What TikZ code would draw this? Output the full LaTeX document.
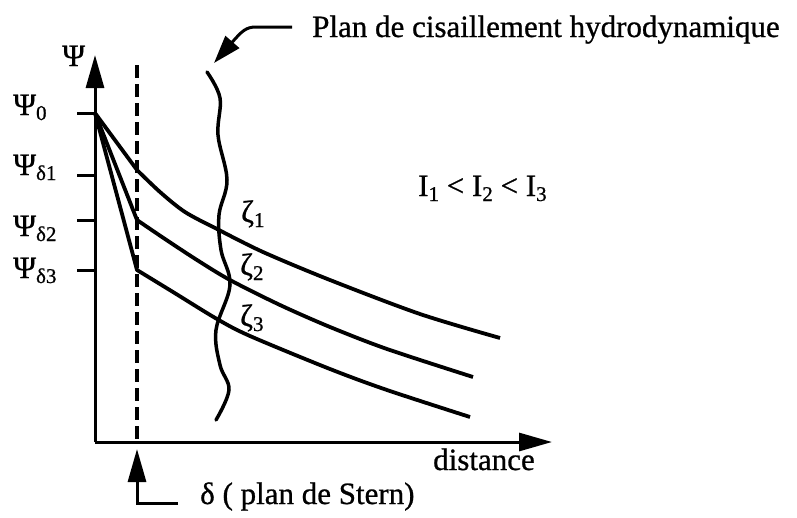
\documentclass[tikz,border=0pt]{standalone}
\usepackage{fontspec}
\setmainfont{Liberation Serif}[FakeBold=0.8]
\usetikzlibrary{arrows.meta}
\newcommand\sbs[1]{\raisebox{-5pt}{\fontsize{21}{21}\selectfont #1}}
\begin{document}
\begin{tikzpicture}[x=1pt,y=-1pt,font=\fontsize{31}{32}\selectfont,
  axis/.style={line width=3pt,-{Triangle[length=33pt,width=18pt]}},
  tick/.style={line width=3pt},
  curve/.style={line width=3.8pt,line join=round},
  wave/.style={line width=3.5pt,line cap=round},
  pointer/.style={line width=3pt,-{Triangle[length=28pt,width=18pt]}},
  lbl/.style={anchor=base west,inner sep=0pt}]
\useasboundingbox (0,0) rectangle (797,517);
\coordinate (O) at (95,442);
\coordinate (Ytip) at (95,55);
\coordinate (Xtip) at (552,442);
% axes
\draw[axis] (O) -- (Ytip);
\draw[axis] (O) -- (Xtip);
% ticks
\coordinate (t0) at (95,113);
\coordinate (t1) at (95,175);
\coordinate (t2) at (95,220);
\coordinate (t3) at (95,270);
\foreach \t in {t0,t1,t2,t3}{\draw[tick] (\t) -- ++(-18,0);}
% labels on axis
\node[lbl] (psi)  at (62,66)  {Ψ};
\node[lbl] (psi0) at (13,115) {Ψ\sbs{0}};
\node[lbl] (psi1) at (13,175) {Ψ\sbs{δ1}};
\node[lbl] (psi2) at (13,236) {Ψ\sbs{δ2}};
\node[lbl] (psi3) at (13,278) {Ψ\sbs{δ3}};
% dashed Stern plane
\coordinate (dtop) at (137,65);
\coordinate (dbot) at (137,442);
\draw[line width=3.4pt,dash pattern=on 13pt off 6pt] (dtop) -- (dbot);
% curves
\draw[curve] (t0) -- plot[smooth,tension=0.5] coordinates {(137,170) (160,192) (185,212) (217,229) (263,252) (330,280) (420,314) (500,338)};
\draw[curve] (t0) -- plot[smooth,tension=0.5] coordinates {(137,220) (165,239) (197,260) (230,280) (280,305) (330,327) (387,349) (473,377)};
\draw[curve] (t0) -- plot[smooth,tension=0.5] coordinates {(137,270) (173,292) (217,319) (250,336) (330,369) (387,390) (470,417)};
% wavy shear plane
\draw[wave] plot[smooth,tension=0.6] coordinates {(207,72) (220,98) (218,135) (227,180) (219,215) (221,250) (230,285) (216,330) (220,365) (229,390) (216,420)};
% zeta labels
\node[lbl] (z1) at (241,222) {ζ\sbs{1}};
\node[lbl] (z2) at (240,275) {ζ\sbs{2}};
\node[lbl] (z3) at (240,326) {ζ\sbs{3}};
% top label and pointer
\node[lbl] (plan) at (312,37) {Plan de cisaillement hydrodynamique};
\coordinate (p0) at (292,27);
\coordinate (ptip) at (214,63);
\draw[pointer] (p0) -- (256,27) .. controls (246,27) and (242,31) .. (ptip);
% ordering
\node[lbl] (ord) at (418,196) {I\sbs{1} < I\sbs{2} < I\sbs{3}};
% distance
\node[lbl] (dist) at (433,470) {distance};
% Stern label and pointer
\node[lbl] (stern) at (200,504) {δ ( plan de Stern)};
\coordinate (s0) at (178,503);
\coordinate (stip) at (137,449);
\draw[line width=3pt,-{Triangle[length=33pt,width=18pt]}] (s0) -- (137,503) -- (stip);
\end{tikzpicture}
\end{document}
